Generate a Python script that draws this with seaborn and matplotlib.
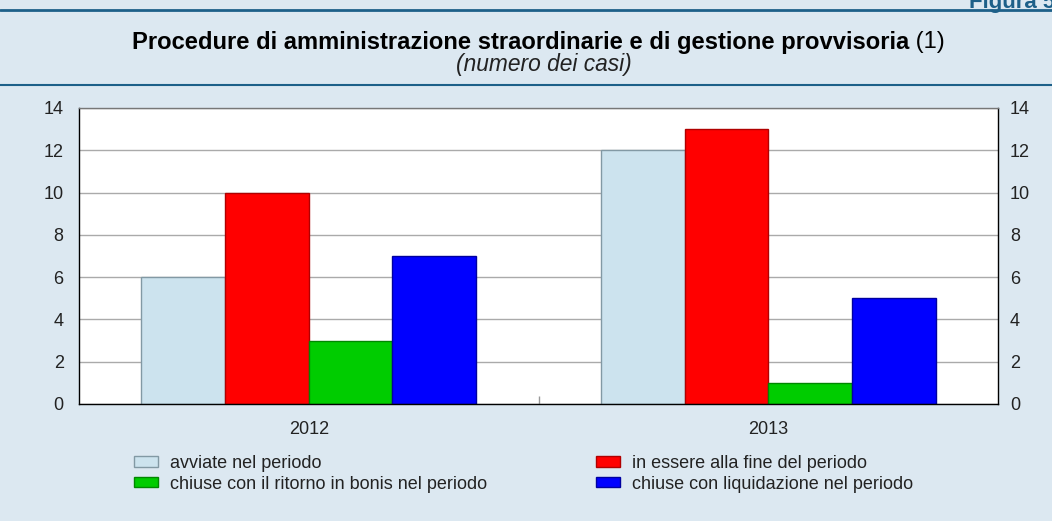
import matplotlib
matplotlib.use("Agg")
import matplotlib.pyplot as plt
import pandas as pd
import seaborn as sns
from matplotlib.lines import Line2D
from matplotlib.ticker import FixedLocator

years = ["2012", "2013"]
series = [
    "avviate nel periodo",
    "in essere alla fine del periodo",
    "chiuse con il ritorno in bonis nel periodo",
    "chiuse con liquidazione nel periodo",
]
avviate = [6, 12]
in_essere = [10, 13]
chiuse_bonis = [3, 1]
chiuse_liquidazione = [7, 5]

fill_colors = ["#cce3ee", "#ff0000", "#00cc00", "#0000ff"]
edge_colors = ["#8299a4", "#b00000", "#008800", "#0000a0"]
bg = "#dce8f1"
line_blue = "#1d6089"

rows = []
for name, vals in zip(series, [avviate, in_essere, chiuse_bonis, chiuse_liquidazione]):
    for y, v in zip(years, vals):
        rows.append({"anno": y, "serie": name, "casi": v})
df = pd.DataFrame(rows)

sns.set_theme(style="white")
plt.rcParams["font.family"] = ["Liberation Sans", "DejaVu Sans"]

W, H = 1052, 521
fig, ax = plt.subplots(figsize=(W / 100, H / 100), dpi=100)
fig.patch.set_facecolor(bg)
fig.subplots_adjust(left=79 / W, right=998 / W, top=1 - 108 / H, bottom=1 - 404 / H)

sns.barplot(data=df, x="anno", y="casi", hue="serie", hue_order=series,
            palette=fill_colors, width=0.728, saturation=1, ax=ax, zorder=2)

for cont, ec in zip(ax.containers, edge_colors):
    for bar in cont:
        bar.set_edgecolor(ec)
        bar.set_linewidth(1)

ax.set_ylim(0, 14)
ax.set_xlim(-0.5, 1.5)
ax.set_yticks(range(0, 15, 2))
ax.set_xlabel("")
ax.set_ylabel("")
ax.set_facecolor("white")
ax.yaxis.grid(True, color="#aaaaaa", linewidth=1, zorder=0)
ax.set_axisbelow(True)
for s in ["left", "right", "bottom"]:
    ax.spines[s].set_color("black")
    ax.spines[s].set_linewidth(1)
ax.spines["top"].set_color("#777777")
ax.spines["top"].set_linewidth(1)

ax.tick_params(axis="y", length=0, labelsize=13, pad=11, colors="#222222")
ax.tick_params(axis="x", length=0, labelsize=13, pad=12.5, colors="#222222")
# small separator tick between the two years
ax.xaxis.set_minor_locator(FixedLocator([0.5]))
ax.tick_params(axis="x", which="minor", bottom=True, direction="in", length=6,
               width=1, color="#999999")

# right-hand copy of the y scale
ax2 = ax.twinx()
ax2.set_ylim(ax.get_ylim())
ax2.set_yticks(range(0, 15, 2))
ax2.tick_params(axis="y", length=0, labelsize=13, pad=8.5, colors="#222222")
ax2.grid(False)
for s in ax2.spines.values():
    s.set_visible(False)

ax.get_legend().remove()
handles = ax.containers
order = [0, 2, 1, 3]
leg = fig.legend([handles[i][0] for i in order], [series[i] for i in order],
                 ncol=2, loc="upper left", bbox_to_anchor=(134 / W, 1 - 455 / H),
                 frameon=False, fontsize=13, handlelength=1.35, handleheight=0.5,
                 handletextpad=0.65, labelspacing=0.2, columnspacing=6.0,
                 borderaxespad=0, borderpad=0)
for t in leg.get_texts():
    t.set_color("#222222")

# header band
fig.add_artist(Line2D([0, 1], [1 - 10 / H] * 2, color=line_blue, linewidth=2,
                      transform=fig.transFigure))
fig.add_artist(Line2D([0, 1], [1 - 85 / H] * 2, color=line_blue, linewidth=1.5,
                      transform=fig.transFigure))
fig.text(969 / W, 1 - 8 / H, "Figura 5", ha="left", va="baseline", fontsize=16,
         fontweight="bold", color=line_blue)


def fit(text, width):
    # scale a text so that it spans the given pixel width
    fig.canvas.draw()
    w = text.get_window_extent().width
    text.set_fontsize(text.get_fontsize() * width / w)


t1 = fig.text(132 / W, 1 - 42 / H, "Procedure di amministrazione straordinarie e di gestione provvisoria",
              ha="left", va="center", fontsize=17, fontweight="bold", color="black")
t2 = fig.text(0, 1 - 42 / H, " (1)", ha="left", va="center", fontsize=17, color="black")
fig.canvas.draw()
w_all = t1.get_window_extent().width + t2.get_window_extent().width
scale = 813 / w_all
t1.set_fontsize(17 * scale)
t2.set_fontsize(17 * scale)
fig.canvas.draw()
t2.set_x((132 + t1.get_window_extent().width) / W)

sub = fig.text(456 / W, 1 - 64 / H, "(numero dei casi)", ha="left", va="center",
               fontsize=15, style="italic", color="#222222")
fit(sub, 176)

fig.savefig("out.png", dpi=100, facecolor=bg)
